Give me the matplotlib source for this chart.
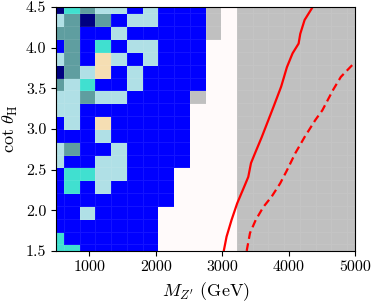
import numpy as np
import matplotlib
matplotlib.use('Agg')
import matplotlib.pyplot as plt
from matplotlib.colors import ListedColormap, BoundaryNorm

plt.rcParams['font.family'] = 'serif'
plt.rcParams['font.serif'] = ['cmr10', 'DejaVu Serif']
plt.rcParams['mathtext.fontset'] = 'cm'
plt.rcParams['axes.formatter.use_mathtext'] = True
plt.rcParams['axes.unicode_minus'] = False

# scan grid (cell centres)
masses = [500, 737, 974, 1211, 1447, 1684, 1921, 2158, 2395, 2632,
          2868, 3105, 3342, 3579, 3816, 4053, 4289, 4526, 4763, 5000]
cots = [1.5, 1.658, 1.816, 1.974, 2.132, 2.289, 2.447, 2.605, 2.763, 2.921,
        3.079, 3.237, 3.395, 3.553, 3.711, 3.868, 4.026, 4.184, 4.342, 4.5]

# category of each cell, top row (cot=4.5) first
# B blue, P powderblue, C cadetblue, T turquoise, N navy, W wheat, G excluded (grey), S snow
rows = [
    "NTCPPBPBBBGSGGGGGGGG",
    "PCNCBPPBBBGSGGGGGGGG",
    "CCBBPBBBBBGSGGGGGGGG",
    "BCBTBPPBBBSSGGGGGGGG",
    "PCBWPBPBBBSSGGGGGGGG",
    "NCPWBPBBBBSSGGGGGGGG",
    "CPTBBPBBBBSSGGGGGGGG",
    "PPCPPBBBBGSSGGGGGGGG",
    "PPBBBBBBBSSSGGGGGGGG",
    "BPBWBBBBBSSSGGGGGGGG",
    "BBBPBBBBBSSSGGGGGGGG",
    "PCBBPBBBBSSSGGGGGGGG",
    "PBBPPBBBBSSSGGGGGGGG",
    "BTTPPBBBSSSSGGGGGGGG",
    "BTBPBBBBSSSSGGGGGGGG",
    "BBBBBBBBSSSSGGGGGGGG",
    "BBPBBBBSSSSSGGGGGGGG",
    "BBBBBBBSSSSSGGGGGGGG",
    "TBBBBBBSSSSSGGGGGGGG",
    "TTBBBBBSSSSSGGGGGGGG",
]

cats = "BPCTNWGS"
colors = ['blue', 'powderblue', 'cadetblue', 'turquoise', 'navy', 'wheat', 'silver', 'snow']

# limit curves
obs_cot = [1.50, 1.675, 1.88, 2.085, 2.29, 2.41, 2.58, 2.70, 2.90, 3.11,
           3.27, 3.52, 3.76, 3.93, 4.05, 4.17, 4.34, 4.50]
obs_mass = [3025, 3067, 3142, 3227, 3333, 3394, 3435, 3495, 3597, 3697,
            3773, 3889, 3976, 4061, 4152, 4177, 4242, 4364]
exp_cot = [1.50, 1.72, 1.88, 2.04, 2.17, 2.33, 2.49, 2.70, 2.90, 3.11,
           3.23, 3.48, 3.64, 3.82]
exp_mass = [3370, 3420, 3506, 3621, 3748, 3874, 3976, 4101, 4242, 4404,
            4510, 4671, 4788, 5000]

Z = np.array([[cats.index(c) for c in r] for r in rows[::-1]])

cmap = ListedColormap(colors)
norm = BoundaryNorm(np.arange(-0.5, len(colors)), cmap.N)

fig, ax = plt.subplots(figsize=(3.74, 3.03), dpi=100)
fig.subplots_adjust(left=0.150, right=0.949, bottom=0.172, top=0.977)

ax.pcolormesh(masses, cots, Z, cmap=cmap, norm=norm, shading='nearest',
              edgecolor=(1, 1, 1, 0.08), linewidth=0.4)
ax.plot(obs_mass, obs_cot, c='red', lw=1.6)
ax.plot(exp_mass, exp_cot, c='red', lw=1.6, ls=(0, (3.5, 2)))

ax.set_xlim(500, 5000)
ax.set_ylim(1.5, 4.5)
ax.set_xticks([1000, 2000, 3000, 4000, 5000])
ax.set_yticks([1.5, 2.0, 2.5, 3.0, 3.5, 4.0, 4.5])
ax.set_xticklabels(['1000', '2000', '3000', '4000', '5000'])
ax.set_yticklabels(['1.5', '2.0', '2.5', '3.0', '3.5', '4.0', '4.5'])
ax.tick_params(labelsize=11.5)
ax.set_xlabel(r"$M_{Z'}$ (GeV)", fontsize=13)
ax.set_ylabel(r"$\cot\,\theta_{\rm H}$", fontsize=13)

plt.savefig('out.png', dpi=100)
